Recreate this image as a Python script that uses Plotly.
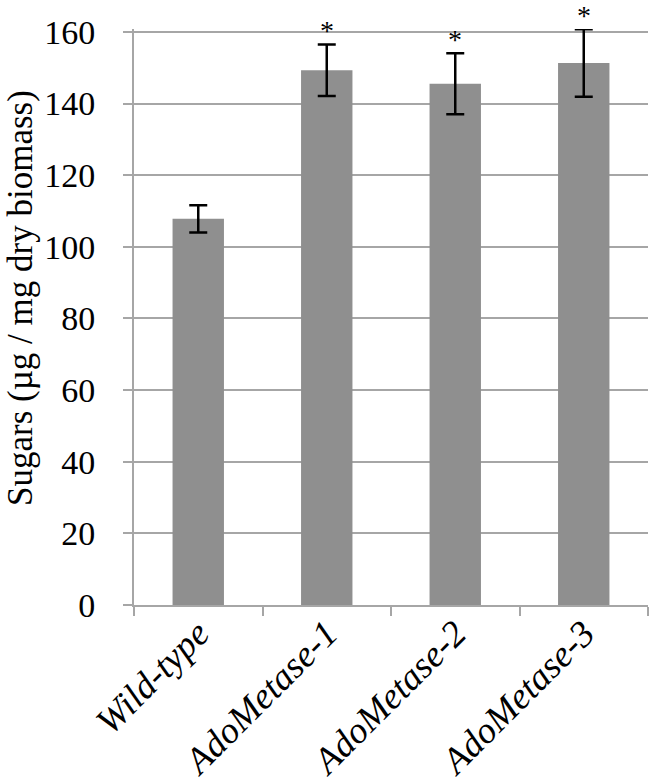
import plotly.graph_objects as go

categories = ["Wild-type", "AdoMetase-1", "AdoMetase-2", "AdoMetase-3"]
sugars = [107.8, 149.3, 145.5, 151.3]
errors = [3.8, 7.2, 8.5, 9.4]
significance = ["", "*", "*", "*"]
y_ticks = [0, 20, 40, 60, 80, 100, 120, 140, 160]
y_title = "Sugars (µg / mg dry biomass)"

FONT = "Liberation Serif, Times New Roman, serif"
GRID = "#a6a6a6"

fig = go.Figure()
fig.add_trace(go.Bar(
    x=categories, y=sugars,
    marker=dict(color="#8f8f8f", line=dict(width=0)),
    showlegend=False, hoverinfo="skip",
))
fig.add_trace(go.Scatter(
    x=categories, y=sugars, mode="markers",
    marker=dict(size=1, opacity=0),
    error_y=dict(type="data", array=errors, color="black", thickness=2.5, width=9),
    cliponaxis=False, showlegend=False, hoverinfo="skip",
))
for c, v, e, s in zip(categories, sugars, errors, significance):
    if s:
        fig.add_annotation(x=c, y=v + e, text=s, showarrow=False,
                           yanchor="bottom", yshift=-4,
                           font=dict(family=FONT, size=28, color="black"))

# y-axis title placed as rotated text in the left margin
fig.add_annotation(xref="paper", yref="paper", x=-0.2198, y=0.533,
                   xanchor="center", yanchor="middle", textangle=-90,
                   text=y_title, showarrow=False,
                   font=dict(family=FONT, size=35, color="black"))

fig.update_layout(
    width=650, height=782,
    margin=dict(l=134, r=2, t=29, b=177, autoexpand=False),
    paper_bgcolor="white", plot_bgcolor="white",
    bargap=0.6,
    font=dict(family=FONT, color="black"),
)
fig.update_xaxes(
    type="category",
    tickson="boundaries",
    ticks="outside", ticklen=9, tickwidth=2, tickcolor=GRID,
    showline=True, linecolor=GRID, linewidth=2,
    tickangle=-45,
    ticklabelstandoff=-10,
    tickfont=dict(family=FONT, size=37, color="black", style="italic"),
    showgrid=False, automargin=False,
)
fig.update_yaxes(
    range=[0, 160.8],
    tickvals=y_ticks,
    ticks="outside", ticklen=9, tickwidth=2, tickcolor=GRID,
    showline=True, linecolor=GRID, linewidth=2,
    showgrid=True, gridcolor=GRID, gridwidth=2,
    zeroline=False, automargin=False,
    ticklabelstandoff=21,
    tickfont=dict(family=FONT, size=34, color="black"),
)

fig.write_html("out.html", config={"displayModeBar": False},
               post_script="document.body.style.margin='0';")
